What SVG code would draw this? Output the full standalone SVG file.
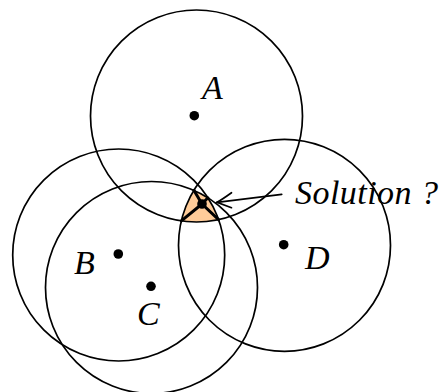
<svg xmlns="http://www.w3.org/2000/svg" width="443" height="392" viewBox="0 0 443 392">
<style>
.ring{fill:none;stroke:#000;stroke-width:1.7}
.dot{fill:#000}
.lbl{font-family:"Liberation Serif","Times New Roman",serif;font-style:italic;font-size:34px;fill:#000}
.arr{fill:none;stroke:#000;stroke-width:1.7;stroke-linecap:round}
.spoke{stroke:#000;stroke-width:3;stroke-linecap:round}
</style>
<defs>
<clipPath id="cA"><circle cx="196.5" cy="116" r="106"/></clipPath>
<clipPath id="cB"><circle cx="118.7" cy="255" r="106"/></clipPath>
<clipPath id="cC"><circle cx="151.5" cy="287.5" r="106"/></clipPath>
<clipPath id="cD"><circle cx="284.5" cy="245.3" r="106"/></clipPath>
</defs>
<rect width="443" height="392" fill="#fff"/>
<g id="solution">
<g clip-path="url(#cA)"><g clip-path="url(#cB)"><g clip-path="url(#cC)">
<circle cx="284.5" cy="245.3" r="106" fill="#FFCC99" clip-path="url(#cD)"/>
</g></g></g>
<line class="spoke" x1="202" y1="204" x2="193.9" y2="190.3"/>
<line class="spoke" x1="202" y1="204" x2="181.3" y2="220.9"/>
<line class="spoke" x1="202" y1="204" x2="218.6" y2="219.7"/>
<line class="spoke" x1="202" y1="204" x2="207.9" y2="197.8"/>
<circle class="dot" cx="202" cy="204" r="4.8"/>
</g>
<g id="A">
<circle class="ring" cx="196.5" cy="116" r="106"/>
<circle class="dot" cx="194.3" cy="115.7" r="4.8"/>
<text class="lbl" x="202" y="99">A</text>
</g>
<g id="B">
<circle class="ring" cx="118.7" cy="255" r="106"/>
<circle class="dot" cx="118.3" cy="254" r="4.8"/>
<text class="lbl" x="74" y="274">B</text>
</g>
<g id="C">
<circle class="ring" cx="151.5" cy="287.5" r="106"/>
<circle class="dot" cx="151" cy="286.3" r="4.8"/>
<text class="lbl" x="137" y="325">C</text>
</g>
<g id="D">
<circle class="ring" cx="284.5" cy="245.3" r="106"/>
<circle class="dot" cx="283.7" cy="244.7" r="4.8"/>
<text class="lbl" x="305" y="269">D</text>
</g>
<g id="connectors">
<path class="arr" d="M281.7,194.3 L217,202.3"/>
<path class="arr" d="M231.5,192.7 Q222,199.5 217,202.3 Q223,204.5 231.5,207.7"/>
<text class="lbl" x="295" y="204" textLength="143" lengthAdjust="spacing">Solution ?</text>
</g>
</svg>
